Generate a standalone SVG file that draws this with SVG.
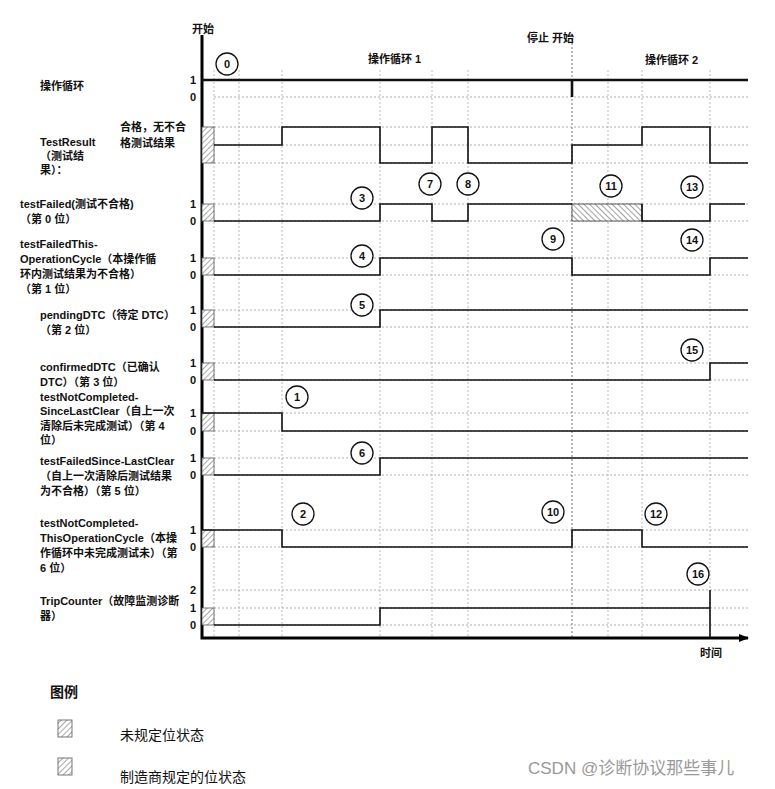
<svg xmlns="http://www.w3.org/2000/svg" width="775" height="789" viewBox="0 0 775 789">
<defs>
<pattern id="h" width="4" height="4" patternUnits="userSpaceOnUse" patternTransform="rotate(45)"><rect width="4" height="4" fill="#fff"/><line x1="0" y1="0" x2="0" y2="4" stroke="#555" stroke-width="1"/></pattern>
<pattern id="h2" width="4" height="4" patternUnits="userSpaceOnUse" patternTransform="rotate(-45)"><rect width="4" height="4" fill="#fff"/><line x1="0" y1="0" x2="0" y2="4" stroke="#444" stroke-width="1"/></pattern>
<marker id="ar" markerWidth="10" markerHeight="8" refX="9" refY="4" orient="auto" markerUnits="userSpaceOnUse"><path d="M0,0 L10,4 L0,8 z" fill="#000"/></marker>
</defs>
<style>
text{font-family:"Liberation Sans","Noto Sans CJK SC",sans-serif;font-size:11px;font-weight:bold;fill:#111}
.n{font-size:12px}
.g{stroke:#999;stroke-width:0.8;stroke-dasharray:2,2;fill:none}
.v{stroke:#aaa;stroke-width:0.8;stroke-dasharray:2,2;fill:none}
.s{stroke:#111;stroke-width:1.6;fill:none}
.hb{fill:url(#h);stroke:#555;stroke-width:0.8}
.c circle{fill:#fff;stroke:#111;stroke-width:1.3}
.c text{font-size:11px;text-anchor:middle}
.leg{font-weight:normal;font-size:14px}
</style>
<rect width="775" height="789" fill="#fff"/>
<g id="grid">
<path class="v" d="M214,70V638M239,70V638M282,70V638M380,70V638M432,70V638M468,70V638M608,70V638M642,70V638M710,70V638"/>
<path class="v" style="stroke:#555" d="M572,35V638"/>
<path class="g" d="M214,97H748M214,127H748M214,145H748M214,163H748M214,204H748M214,221H748M214,258H748M214,275H748M214,310H748M214,327H748M214,363H748M214,380H748M214,413H748M214,431H748M214,458H748M214,475H748M214,530H748M214,547H748M214,590H748M214,608H748M214,625H748"/>
</g>
<g id="axes">
<path d="M202,35V638H748" stroke="#000" stroke-width="3" fill="none" marker-end="url(#ar)"/>
</g>
<g id="hatches">
<rect class="hb" x="202" y="127" width="12" height="36"/>
<rect class="hb" x="202" y="204" width="12" height="17"/>
<rect class="hb" x="202" y="258" width="12" height="17"/>
<rect class="hb" x="202" y="310" width="12" height="17"/>
<rect class="hb" x="202" y="363" width="12" height="17"/>
<rect class="hb" x="202" y="413" width="12" height="18"/>
<rect class="hb" x="202" y="458" width="12" height="17"/>
<rect class="hb" x="202" y="530" width="12" height="17"/>
<rect class="hb" x="202" y="608" width="12" height="17"/>
<rect x="572" y="204" width="70" height="17" fill="url(#h2)" stroke="#333" stroke-width="0.8"/>
</g>
<g id="connectors">
<path class="s" style="stroke-width:2.6" d="M202,80H748M572,80V97"/>
<path class="s" d="M214,145H282V127H380V163H432V127H468V163H572V145H642V127H710V163H748"/>
<path class="s" d="M214,221H380V204H432V221H468V204H572M642,204V221H710V204H745"/>
<path class="s" d="M214,275H380V258H572V275H710V258H748"/>
<path class="s" d="M214,327H380V310H748"/>
<path class="s" d="M214,380H710V363H748"/>
<path class="s" d="M202,413H282V431H748"/>
<path class="s" d="M214,475H380V458H748"/>
<path class="s" d="M202,530H282V547H572V530H642V547H748"/>
<path class="s" d="M214,625H380V608H710V590M710,590V638"/>
</g>
<g id="circles" class="c">
<g id="c0"><circle cx="227" cy="64" r="11"/><text x="227" y="68">0</text></g>
<g id="c1"><circle cx="297" cy="397" r="11"/><text x="297" y="401">1</text></g>
<g id="c2"><circle cx="303" cy="514" r="11"/><text x="303" y="518">2</text></g>
<g id="c3"><circle cx="362" cy="198" r="11"/><text x="362" y="202">3</text></g>
<g id="c4"><circle cx="362" cy="256" r="11"/><text x="362" y="260">4</text></g>
<g id="c5"><circle cx="362" cy="305" r="11"/><text x="362" y="309">5</text></g>
<g id="c6"><circle cx="362" cy="453" r="11"/><text x="362" y="457">6</text></g>
<g id="c7"><circle cx="430" cy="184" r="11"/><text x="430" y="188">7</text></g>
<g id="c8"><circle cx="468" cy="184" r="11"/><text x="468" y="188">8</text></g>
<g id="c9"><circle cx="553" cy="239" r="11"/><text x="553" y="243">9</text></g>
<g id="c10"><circle cx="553" cy="512" r="11"/><text x="553" y="516">10</text></g>
<g id="c11"><circle cx="611" cy="186" r="11"/><text x="611" y="190">11</text></g>
<g id="c12"><circle cx="656" cy="514" r="11"/><text x="656" y="518">12</text></g>
<g id="c13"><circle cx="692" cy="187" r="11"/><text x="692" y="191">13</text></g>
<g id="c14"><circle cx="692" cy="240" r="11"/><text x="692" y="244">14</text></g>
<g id="c15"><circle cx="692" cy="350" r="11"/><text x="692" y="354">15</text></g>
<g id="c16"><circle cx="698" cy="574" r="11"/><text x="698" y="578">16</text></g>
</g>
<g id="levels" class="n">
<text x="190" y="84">1</text><text x="190" y="101">0</text>
<text x="190" y="208">1</text><text x="190" y="225">0</text>
<text x="190" y="262">1</text><text x="190" y="279">0</text>
<text x="190" y="314">1</text><text x="190" y="331">0</text>
<text x="190" y="367">1</text><text x="190" y="384">0</text>
<text x="190" y="417">1</text><text x="190" y="435">0</text>
<text x="190" y="462">1</text><text x="190" y="479">0</text>
<text x="190" y="534">1</text><text x="190" y="551">0</text>
<text x="190" y="594">2</text><text x="190" y="612">1</text><text x="190" y="629">0</text>
</g>
<g id="top">
<text x="192" y="33">开始</text>
<text x="527" y="42">停止 开始</text>
<text x="368" y="63">操作循环 1</text>
<text x="645" y="64">操作循环 2</text>
<text x="700" y="657">时间</text>
</g>
<g id="labels">
<text x="40" y="90">操作循环</text>
<text x="40" y="146">TestResult</text><text x="40" y="160">（测试结</text><text x="40" y="174">果）：</text>
<text x="120" y="131">合格，无不合</text><text x="120" y="147">格测试结果</text>
<text x="20" y="208">testFailed(测试不合格)</text><text x="20" y="223">（第 0 位）</text>
<text x="20" y="248">testFailedThis-</text><text x="20" y="263">OperationCycle（本操作循</text><text x="20" y="278">环内测试结果为不合格）</text><text x="20" y="293">（第 1 位）</text>
<text x="40" y="319">pendingDTC（待定 DTC）</text><text x="40" y="334">（第 2 位）</text>
<text x="40" y="371">confirmedDTC（已确认</text><text x="40" y="386">DTC）（第 3 位）</text>
<text x="40" y="401">testNotCompleted-</text><text x="40" y="415">SinceLastClear（自上一次</text><text x="40" y="430">清除后未完成测试）（第 4</text><text x="40" y="444">位）</text>
<text x="40" y="465">testFailedSince-LastClear</text><text x="40" y="480">（自上一次清除后测试结果</text><text x="40" y="495">为不合格）（第 5 位）</text>
<text x="40" y="527">testNotCompleted-</text><text x="40" y="542">ThisOperationCycle（本操</text><text x="40" y="557">作循环中未完成测试未）（第</text><text x="40" y="572">6 位）</text>
<text x="40" y="605">TripCounter（故障监测诊断</text><text x="40" y="620">器）</text>
</g>
<g id="legend">
<text x="50" y="697" style="font-size:14px">图例</text>
<rect x="58" y="720" width="14" height="17" fill="url(#h)" stroke="#555" stroke-width="0.8"/>
<text class="leg" x="120" y="740">未规定位状态</text>
<rect x="58" y="758" width="14" height="17" fill="url(#h)" stroke="#555" stroke-width="0.8"/>
<text class="leg" x="120" y="782">制造商规定的位状态</text>
<text class="leg" x="528" y="774" style="fill:#999;font-size:17px">CSDN @诊断协议那些事儿</text>
</g>
</svg>
